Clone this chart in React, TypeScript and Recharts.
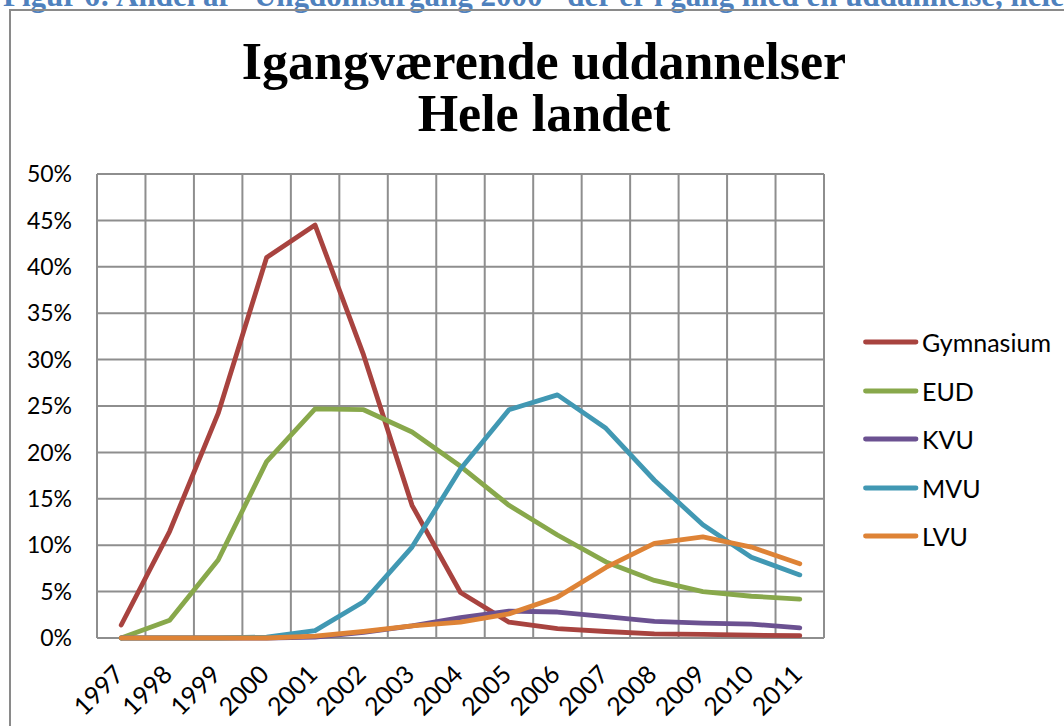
import React from 'react';
import { LineChart, Line, XAxis, YAxis, CartesianGrid, Legend } from 'recharts';

const years = ['1997', '1998', '1999', '2000', '2001', '2002', '2003', '2004', '2005', '2006', '2007', '2008', '2009', '2010', '2011'];
const gymnasium = [1.4, 11.5, 24.2, 41.0, 44.5, 30.5, 14.3, 4.9, 1.7, 1.0, 0.7, 0.45, 0.4, 0.3, 0.25];
const eud = [0.0, 1.9, 8.4, 19.0, 24.7, 24.6, 22.2, 18.5, 14.3, 11.1, 8.2, 6.2, 5.0, 4.5, 4.2];
const kvu = [0, 0, 0, 0, 0.1, 0.6, 1.3, 2.2, 2.9, 2.8, 2.3, 1.8, 1.6, 1.5, 1.1];
const mvu = [0, 0, 0, 0.1, 0.8, 3.9, 9.8, 18.2, 24.6, 26.2, 22.6, 17.0, 12.2, 8.7, 6.8];
const lvu = [0, 0, 0, 0, 0.2, 0.7, 1.3, 1.7, 2.6, 4.4, 7.6, 10.2, 10.9, 9.8, 8.0];
const yTicks = [0, 5, 10, 15, 20, 25, 30, 35, 40, 45, 50];
const seriesNames = ['Gymnasium', 'EUD', 'KVU', 'MVU', 'LVU'];
const seriesColors = ['#A8433F', '#88A84B', '#6B5191', '#4198B3', '#DE8336'];
const seriesValues = [gymnasium, eud, kvu, mvu, lvu];

const data = years.map((y, i) => {
  const row: Record<string, string | number> = { year: y };
  seriesNames.forEach((n, s) => {
    row[n] = seriesValues[s][i];
  });
  return row;
});

const FONT = 'Lato, "Open Sans", sans-serif';

const XTick = (props: any) => {
  const { x, y, payload } = props;
  return (
    <g transform={`translate(${x + 4},${y + 38})`}>
      <text textAnchor="end" transform="rotate(-45)" fontFamily={FONT} fontSize={25} fill="#000">
        {payload.value}
      </text>
    </g>
  );
};

const LegendContent = (props: any) => {
  const payload = [...(props.payload || [])].sort(
    (a: any, b: any) => seriesNames.indexOf(a.value) - seriesNames.indexOf(b.value)
  );
  return (
    <div style={{ width: 200 }}>
      {payload.map((p: any) => (
        <div key={p.value} style={{ height: 48.5, display: 'flex', alignItems: 'center' }}>
          <svg width={60} height={10} style={{ display: 'block' }}>
            <line x1={3.5} y1={5} x2={54} y2={5} stroke={p.color} strokeWidth={4.8} strokeLinecap="round" />
          </svg>
          <span style={{ fontFamily: FONT, fontSize: 25, color: '#000', lineHeight: '26px' }}>{p.value}</span>
        </div>
      ))}
    </div>
  );
};

const verticalBoundaries = ({ offset }: any) =>
  Array.from({ length: years.length + 1 }, (_, i) => offset.left + (i * offset.width) / years.length);

export default function App() {
  return (
    <div style={{ position: 'absolute', left: 0, top: 0, width: 1064, height: 726, overflow: 'hidden', background: '#fff' }}>
      <div
        style={{
          position: 'absolute',
          left: 3,
          top: -22,
          whiteSpace: 'nowrap',
          fontFamily: '"Liberation Serif", serif',
          fontWeight: 'bold',
          fontSize: 31,
          color: '#4F81BD',
          lineHeight: 'normal',
        }}
      >
        Figur 6: Andel af "Ungdomsårgang 2000" der er i gang med en uddannelse, hele landet
      </div>
      <div
        style={{
          position: 'absolute',
          left: 9,
          top: 9,
          width: 1100,
          height: 800,
          border: '2px solid #8a8a8a',
          boxSizing: 'border-box',
        }}
      />
      <div
        style={{
          position: 'absolute',
          left: 0,
          width: 1088,
          top: 36,
          textAlign: 'center',
          fontFamily: '"Liberation Serif", serif',
          fontWeight: 'bold',
          fontSize: 52,
          lineHeight: '52px',
          color: '#000',
        }}
      >
        <div>Igangværende uddannelser</div>
        <div>Hele landet</div>
      </div>
      <div style={{ position: 'absolute', left: 0, top: 0 }}>
        <LineChart width={1064} height={726} data={data} margin={{ top: 174, right: 40, bottom: 28, left: 37 }}>
          <CartesianGrid stroke="#8e8e8e" strokeWidth={2} verticalCoordinatesGenerator={verticalBoundaries} />
          <XAxis
            dataKey="year"
            type="category"
            padding={{ left: 24.2, right: 24.2 }}
            axisLine={false}
            tickLine={false}
            tickSize={0}
            tickMargin={0}
            height={60}
            interval={0}
            tick={<XTick />}
          />
          <YAxis
            domain={[0, 50]}
            ticks={yTicks}
            width={60}
            axisLine={false}
            tickLine={false}
            tickSize={0}
            tickMargin={25}
            tickFormatter={(v: number) => `${v}%`}
            tick={{ fontFamily: FONT, fontSize: 23, fill: '#000' }}
            interval={0}
          />
          {seriesNames.map((n, s) => (
            <Line
              key={n}
              dataKey={n}
              name={n}
              stroke={seriesColors[s]}
              strokeWidth={4.8}
              dot={false}
              activeDot={false}
              strokeLinecap="round"
              strokeLinejoin="round"
              isAnimationActive={false}
            />
          ))}
          <Legend
            layout="vertical"
            align="right"
            verticalAlign="middle"
            content={<LegendContent />}
            wrapperStyle={{ left: 862, top: 318, width: 200 }}
          />
        </LineChart>
      </div>
    </div>
  );
}
